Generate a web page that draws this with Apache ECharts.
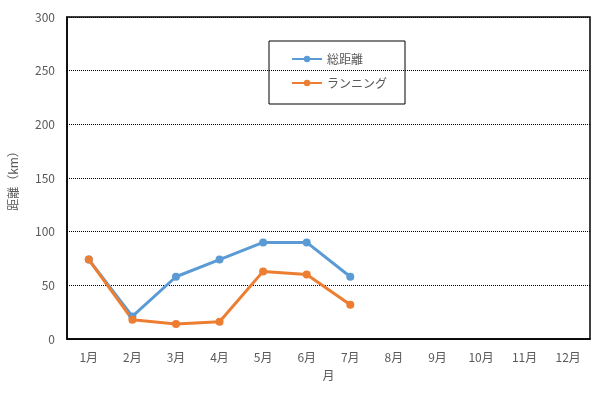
<!DOCTYPE html>
<html>
<head>
<meta charset="utf-8">
<script src="https://cdn.jsdelivr.net/npm/echarts@6/dist/echarts.min.js"></script>
<style>
  html, body { margin: 0; padding: 0; background: #fff; }
  #chart { width: 594px; height: 397px; }
</style>
</head>
<body>
<div id="chart"></div>
<script>
var months = ['1月', '2月', '3月', '4月', '5月', '6月', '7月', '8月', '9月', '10月', '11月', '12月'];
var totalDist = [74, 21, 58, 74, 90, 90, 58];
var running = [74, 18, 14, 16, 63, 60, 32];

var font = '"Noto Sans CJK JP", sans-serif';
var gray = '#595959';

var myChart = echarts.init(document.getElementById('chart'));
var option = {
    textStyle: { fontFamily: font },
    grid: {
        left: 67, right: 4, top: 17, bottom: 58,
        outerBoundsMode: 'none',
        containLabel: false,
        show: true, borderColor: '#000', borderWidth: 1.5
    },
    legend: {
        orient: 'vertical',
        left: 269, top: 41,
        padding: [12, 18, 15, 22],
        itemGap: 12,
        itemWidth: 30, itemHeight: 8,
        borderColor: '#000', borderWidth: 1,
        textStyle: { color: gray, fontSize: 12, fontFamily: font },
        data: ['総距離', 'ランニング']
    },
    xAxis: {
        type: 'category',
        data: months,
        boundaryGap: true,
        name: '月',
        nameLocation: 'middle',
        nameGap: 30,
        nameTextStyle: { color: gray, fontSize: 12 },
        axisLine: { lineStyle: { color: '#000', width: 1.5 } },
        axisTick: { show: false },
        axisLabel: { color: gray, fontSize: 12, margin: 12 }
    },
    yAxis: {
        type: 'value',
        min: 0, max: 300, interval: 50,
        name: '距離（km）',
        nameLocation: 'middle',
        nameGap: 48,
        nameTextStyle: { color: gray, fontSize: 12 },
        axisLine: { show: true, lineStyle: { color: '#000', width: 1.5 } },
        axisTick: { show: false },
        axisLabel: { color: gray, fontSize: 12, margin: 12 },
        splitLine: { lineStyle: { color: '#000', type: [1, 1], width: 1 } }
    },
    series: [
        {
            name: '総距離',
            type: 'line',
            data: totalDist,
            symbol: 'circle',
            symbolSize: 8,
            color: '#5b9bd5',
            lineStyle: { width: 3 }
        },
        {
            name: 'ランニング',
            type: 'line',
            data: running,
            symbol: 'circle',
            symbolSize: 8,
            color: '#ed7d31',
            lineStyle: { width: 3 }
        }
    ]
};
myChart.setOption(option);
</script>
</body>
</html>
